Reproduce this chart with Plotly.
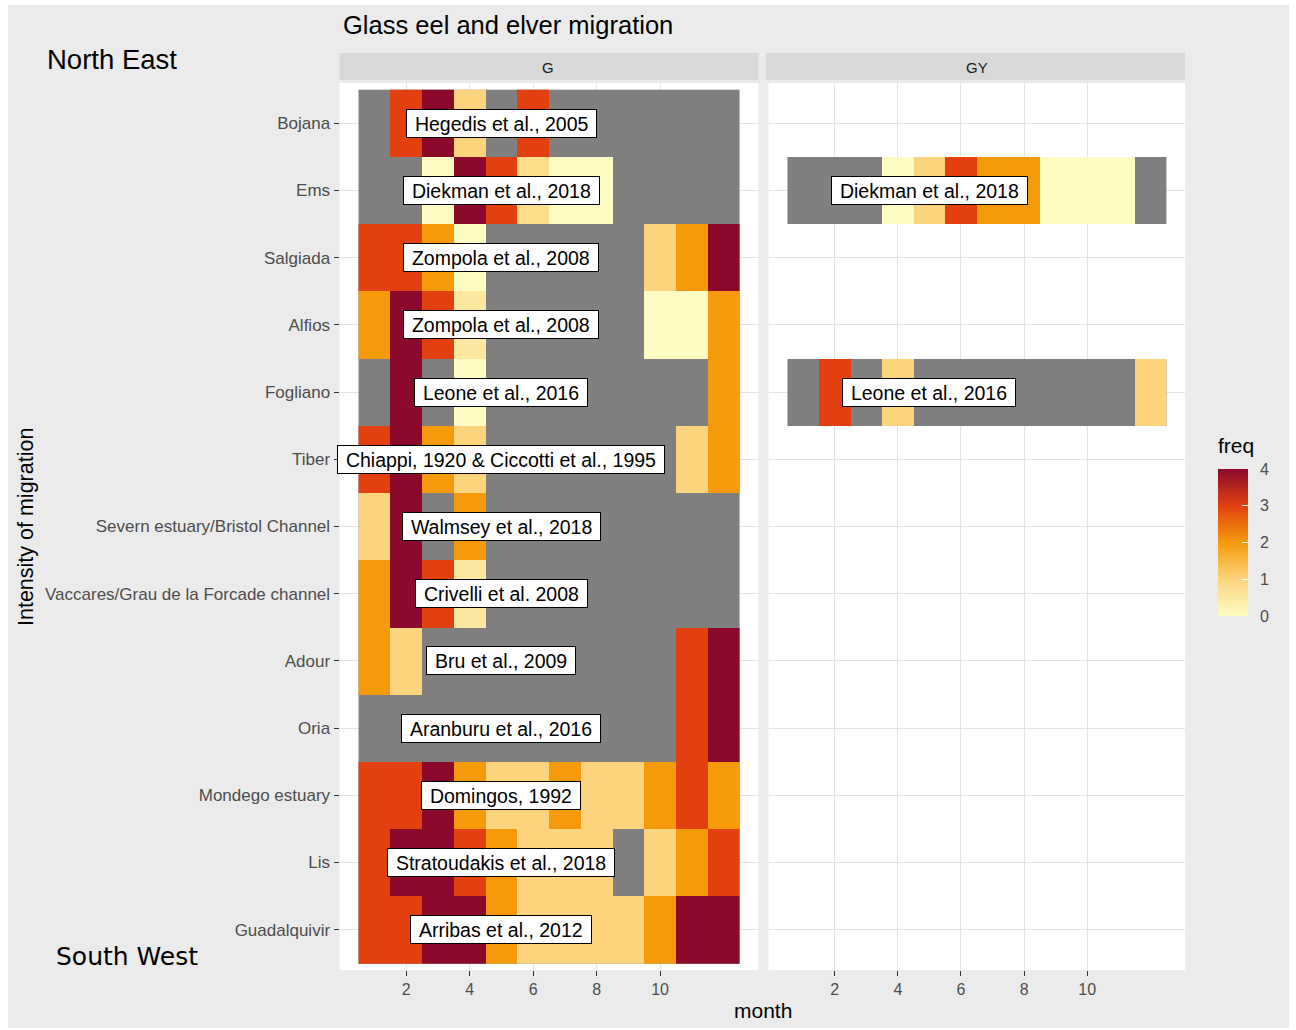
import plotly.graph_objects as go

# ---- data -------------------------------------------------------------
sites = [
    "Bojana", "Ems", "Salgiada", "Alfios", "Fogliano", "Tiber",
    "Severn estuary/Bristol Channel", "Vaccares/Grau de la Forcade channel",
    "Adour", "Oria", "Mondego estuary", "Lis", "Guadalquivir",
]
months = list(range(1, 13))
N = None

# stage G: migration intensity per month (None = no migration recorded)
g_bojana = [N, 3, 4, 1, N, 3, N, N, N, N, N, N]
g_ems = [N, N, 0, 4, 3, 0.8, 0, 0, N, N, N, N]
g_salgiada = [3, 3, 2, 0, N, N, N, N, N, 1, 2, 4]
g_alfios = [2, 4, 3, 0.5, N, N, N, N, N, 0, 0, 2]
g_fogliano = [N, 4, N, 0, N, N, N, N, N, N, N, 2]
g_tiber = [3, 4, 2, 1, N, N, N, N, N, N, 1, 2]
g_severn = [1, 4, N, 2, N, N, N, N, N, N, N, N]
g_vaccares = [2, 4, 3, 0.5, N, N, N, N, N, N, N, N]
g_adour = [2, 1, N, N, N, N, N, N, N, N, 3, 4]
g_oria = [N, N, N, N, N, N, N, N, N, N, 3, 4]
g_mondego = [3, 3, 4, 2, 1, 1, 2, 1, 1, 2, 3, 2]
g_lis = [3, 4, 4, 3, 2, 1, 1, 1, N, 1, 2, 3]
g_guadalquivir = [3, 3, 4, 4, 2, 1, 1, 1, 1, 2, 4, 4]

g_rows = [g_bojana, g_ems, g_salgiada, g_alfios, g_fogliano, g_tiber,
          g_severn, g_vaccares, g_adour, g_oria, g_mondego, g_lis,
          g_guadalquivir]

g_refs = [
    "Hegedis et al., 2005", "Diekman et al., 2018", "Zompola et al., 2008",
    "Zompola et al., 2008", "Leone et al., 2016",
    "Chiappi, 1920 & Ciccotti et al., 1995", "Walmsey et al., 2018",
    "Crivelli et al. 2008", "Bru et al., 2009", "Aranburu et al., 2016",
    "Domingos, 1992", "Stratoudakis et al., 2018", "Arribas et al., 2012",
]

# stage GY: only two sites studied
gy_sites = ["Ems", "Fogliano"]
gy_ems = [N, N, N, 0, 1, 3, 2, 2, 0, 0, 0, N]
gy_fogliano = [N, 3, N, 1, N, N, N, N, N, N, N, 1]
gy_rows = [gy_ems, gy_fogliano]
gy_refs = ["Diekman et al., 2018", "Leone et al., 2016"]

x_breaks = [2, 4, 6, 8, 10]
freq_breaks = [0, 1, 2, 3, 4]

# ---- geometry helpers -------------------------------------------------
W, H = 1296, 1030


def px(x):
    return x / W


def py(y):
    return 1 - y / H


n = len(sites)
ypos = {s: n - i for i, s in enumerate(sites)}  # first site on top
yvals = list(range(1, n + 1))

FREQ_SCALE = [
    [0.0, "#FFFCC3"],
    [0.25, "#FDD47E"],
    [0.5, "#F59B0B"],
    [0.75, "#E2410F"],
    [1.0, "#8B0A2C"],
]
NA_GREY = "#7F7F7F"
FONT = "Liberation Sans, Arial, sans-serif"

# colour bar geometry (pixels)
CB_TOP, CB_BOTTOM = 469, 616
CB_LEFT, CB_W = 1218, 30


def grid(rows_by_site):
    z = [[None] * 12 for _ in yvals]
    for site, vals in rows_by_site.items():
        z[ypos[site] - 1] = list(vals)
    return z


def na_grid(rows_by_site):
    z = [[None] * 12 for _ in yvals]
    for site in rows_by_site:
        z[ypos[site] - 1] = [0] * 12
    return z


g_map = dict(zip(sites, g_rows))
gy_map = dict(zip(gy_sites, gy_rows))

fig = go.Figure()

for xa, ya, mp, show in (("x", "y", g_map, True), ("x2", "y2", gy_map, False)):
    # grey tiles for months with no recorded migration
    fig.add_trace(go.Heatmap(
        x=months, y=yvals, z=na_grid(mp), xaxis=xa, yaxis=ya,
        colorscale=[[0, NA_GREY], [1, NA_GREY]], showscale=False,
        hoverinfo="skip",
    ))
    fig.add_trace(go.Heatmap(
        x=months, y=yvals, z=grid(mp), xaxis=xa, yaxis=ya,
        colorscale=FREQ_SCALE, zmin=0, zmax=4, showscale=show,
        colorbar=dict(
            x=px(CB_LEFT), xanchor="left", xpad=0,
            y=py((CB_TOP + CB_BOTTOM) / 2), yanchor="middle", ypad=0,
            len=CB_BOTTOM - CB_TOP, lenmode="pixels", thickness=CB_W,
            outlinewidth=0, tickvals=freq_breaks, showticklabels=False,
            ticks="inside", ticklen=6, tickcolor="white",
        ) if show else None,
    ))

# ---- axes -------------------------------------------------------------
axis_common = dict(
    showline=False, zeroline=False, showgrid=True,
    gridcolor="#E4E4E4", gridwidth=1,
    ticks="outside", ticklen=5, tickcolor="#333333", tickwidth=1,
    tickfont=dict(family=FONT, size=17, color="#4D4D4D"),
)
xtick_font = dict(family=FONT, size=16, color="#4D4D4D")
yr = [0.4, n + 0.6]
xr = [-0.1, 13.1]
dom_y = [py(970), py(83)]

fig.update_layout(
    width=W, height=H,
    margin=dict(l=0, r=0, t=0, b=0),
    paper_bgcolor="#EBEBEB", plot_bgcolor="white",
    showlegend=False,
    xaxis=dict(domain=[px(339.5), px(758.5)], range=xr, tickvals=x_breaks,
               anchor="y", **{**axis_common, "tickfont": xtick_font}),
    xaxis2=dict(domain=[px(768.5), px(1185)], range=xr, tickvals=x_breaks,
                anchor="y2", **{**axis_common, "tickfont": xtick_font}),
    yaxis=dict(domain=dom_y, range=yr, tickvals=yvals,
               ticktext=[sites[n - v] for v in yvals], anchor="x",
               **axis_common),
    yaxis2=dict(domain=dom_y, range=yr, tickvals=yvals, anchor="x2",
                **{**axis_common, "ticks": "", "showticklabels": False}),
)

# ---- facet strips, outer frame -------------------------------------------
shapes = []
for x0, x1 in ((339.5, 758.5), (766, 1185)):
    shapes.append(dict(type="rect", xref="paper", yref="paper",
                       x0=px(x0), x1=px(x1), y0=py(80), y1=py(53),
                       fillcolor="#D9D9D9", line=dict(width=0)))
for x0, y0, x1, y1 in ((0, 0, 8, H), (0, 0, W, 5), (1289, 0, W, H), (0, 1028, W, H)):
    shapes.append(dict(type="rect", xref="paper", yref="paper",
                       x0=px(x0), x1=px(x1), y0=py(y1), y1=py(y0),
                       fillcolor="white", line=dict(width=0)))
fig.update_layout(shapes=shapes)

ann = []


def text(x, y, s, size, color="black", family=FONT, xanchor="center", **kw):
    ann.append(dict(x=px(x), y=py(y), xref="paper", yref="paper", text=s,
                    showarrow=False, xanchor=xanchor, yanchor="middle",
                    font=dict(family=family, size=size, color=color), **kw))


text(548, 67, "G", 15, "#1A1A1A")
text(977, 67, "GY", 15, "#1A1A1A")
text(341, 25, "Glass eel and elver migration", 25.5, xanchor="left")
text(45, 60, "North East", 27.5, xanchor="left")
text(54, 956, "South West", 25, family="DejaVu Sans, sans-serif", xanchor="left")
text(763, 1010, "month", 21)
text(26, 527, "Intensity of migration", 21.5, textangle=-90)
text(1216, 445, "freq", 21, xanchor="left")

# colour bar labels, placed along the 0-4 freq scale of the bar
for v in freq_breaks:
    ypix = CB_BOTTOM - v * (CB_BOTTOM - CB_TOP) / 4
    text(CB_LEFT + CB_W + 10, ypix, str(v), 16, "#4D4D4D", xanchor="left")

# reference labels drawn on the tiles (non-breaking spaces pad the box sides)
label_style = dict(bgcolor="white", bordercolor="black", borderwidth=1,
                   borderpad=2.5, font=dict(family=FONT, size=19.5, color="black"),
                   showarrow=False)
PAD = "\u00a0"
for site, ref in zip(sites, g_refs):
    ann.append(dict(x=5, y=ypos[site], xref="x", yref="y",
                    text=PAD + ref + PAD, **label_style))
for site, ref in zip(gy_sites, gy_refs):
    ann.append(dict(x=5, y=ypos[site], xref="x2", yref="y2",
                    text=PAD + ref + PAD, **label_style))

fig.update_layout(annotations=ann)

fig.write_html("out.html")
